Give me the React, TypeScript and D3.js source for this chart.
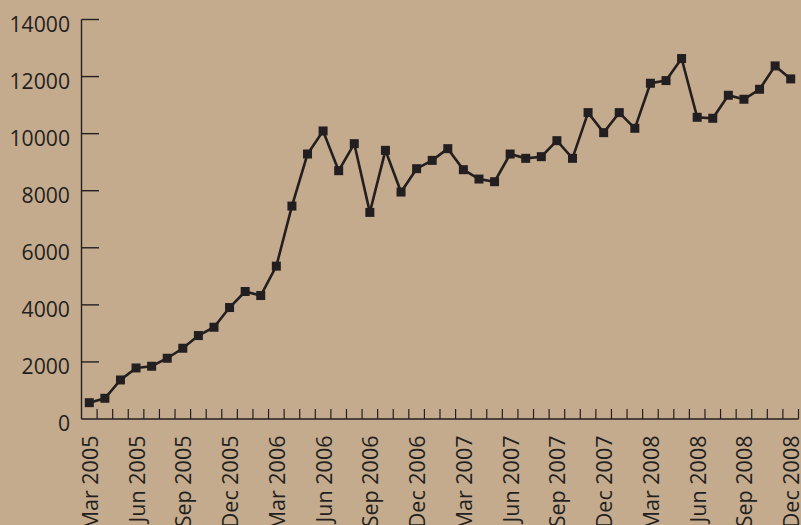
import React from "react";
import * as d3 from "d3";

const months = ["Jan","Feb","Mar","Apr","May","Jun","Jul","Aug","Sep","Oct","Nov","Dec"];
const startYear = 2005;
const startMonth = 2; // Mar
const values = [
  572, 726, 1368, 1789, 1849, 2129, 2480, 2924, 3216, 3906, 4468, 4327,
  5357, 7462, 9286, 10094, 8702, 9649, 7240, 9415, 7953, 8772, 9063, 9474,
  8737, 8409, 8316, 9286, 9135, 9193, 9754, 9135, 10737, 10035, 10737, 10187,
  11766, 11860, 12632, 10573, 10538, 11345, 11205, 11555, 12374, 11918,
];
const categories = values.map((_, i) => {
  const m = startMonth + i;
  return `${months[m % 12]} ${startYear + Math.floor(m / 12)}`;
});
const yTicks = [0, 2000, 4000, 6000, 8000, 10000, 12000, 14000];

const W = 801, H = 525;
const left = 81.5, right = 798.5, top = 19.5, bottom = 419;
const BG = "#c5ab8d";
const INK = "#231f20";
const FONT = "'Open Sans', sans-serif";

export default function App() {
  const x = d3.scaleBand<string>().domain(categories).range([left, right]).paddingInner(0).paddingOuter(0);
  const y = d3.scaleLinear().domain([0, 14000]).range([bottom, top]);
  const cx = (c: string) => (x(c) as number) + x.bandwidth() / 2;
  const line = d3.line<number>().x((_, i) => cx(categories[i])).y((d) => y(d));
  const sz = 9;
  return (
    <svg width={W} height={H} style={{ position: "absolute", left: 0, top: 0, background: BG }} fontFamily={FONT}>
      <rect x={0} y={0} width={W} height={H} fill={BG} />
      {/* y axis */}
      <line x1={left} x2={left} y1={top} y2={bottom} stroke={INK} strokeWidth={1.4} />
      {yTicks.map((t) => (
        <g key={t}>
          {t > 0 && <line x1={left} x2={left + 17.5} y1={y(t)} y2={y(t)} stroke={INK} strokeWidth={1.4} />}
          <text x={left - 11.5} y={y(t)} dy="0.58em" textAnchor="end" fontSize={21.2} fill={INK}>{t}</text>
        </g>
      ))}
      {/* x axis */}
      <line x1={left} x2={right} y1={bottom} y2={bottom} stroke={INK} strokeWidth={1.4} />
      {categories.map((c) => (
        <line key={c} x1={(x(c) as number) + x.bandwidth()} x2={(x(c) as number) + x.bandwidth()} y1={bottom} y2={bottom - 10} stroke={INK} strokeWidth={1.2} />
      ))}
      {categories.map((c, i) => i % 3 === 0 ? (
        <text key={"l" + c} transform={`translate(${cx(c) + 0.8},${bottom + 16.5}) rotate(-90)`} textAnchor="end" dy="0.36em" fontSize={21.5} fill={INK}>{c}</text>
      ) : null)}
      {/* series */}
      <path d={line(values) || ""} fill="none" stroke={INK} strokeWidth={2.6} strokeLinejoin="miter" />
      {values.map((v, i) => (
        <rect key={i} x={cx(categories[i]) - sz / 2} y={y(v) - sz / 2} width={sz} height={sz} fill={INK} />
      ))}
    </svg>
  );
}
